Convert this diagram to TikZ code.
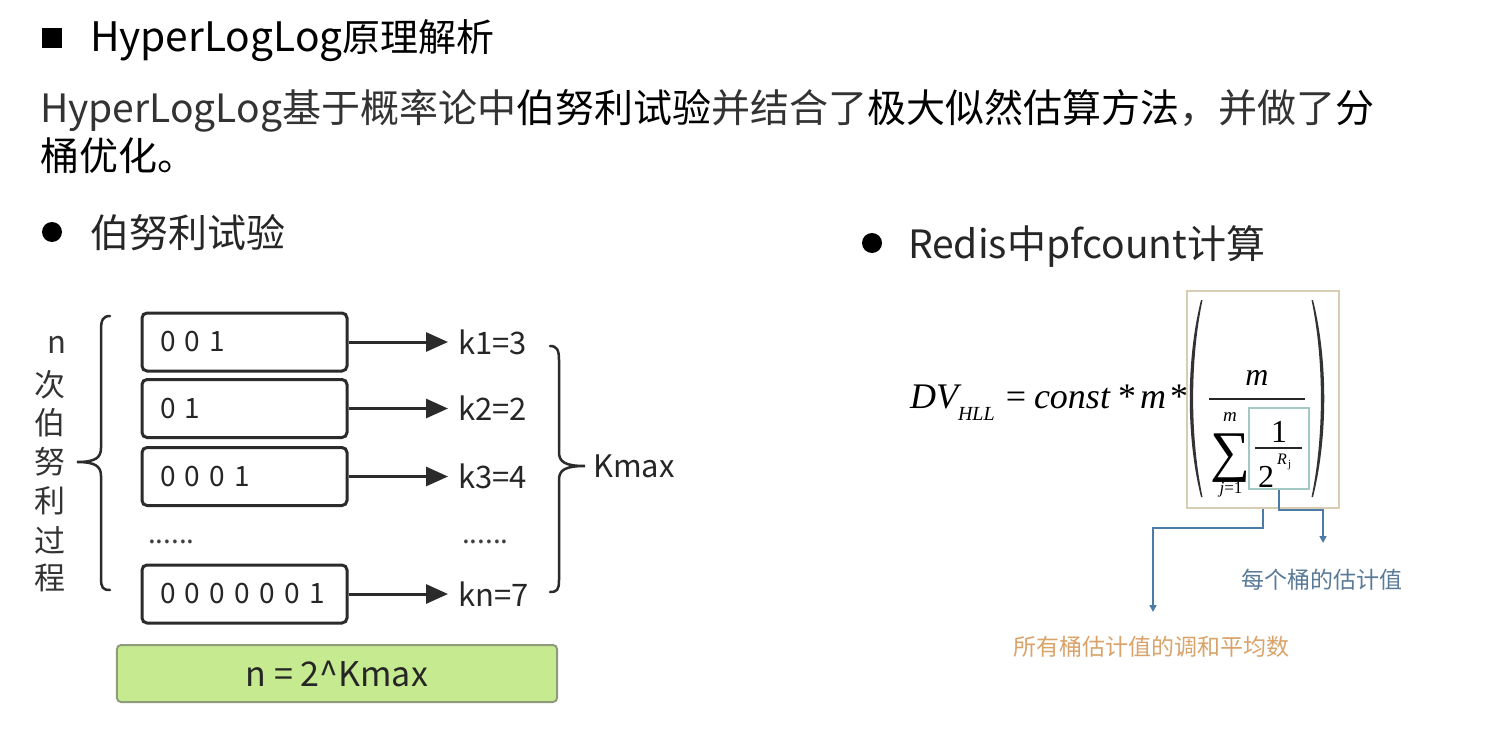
\documentclass[tikz,border=0pt]{standalone}
\usepackage{fontspec}
\setmainfont{Noto Sans CJK SC}
\newfontfamily\titlelat[Scale=1.07]{Noto Sans CJK SC}
\newfontfamily\tms{Liberation Serif}
\usetikzlibrary{arrows.meta,calc}
\newcommand\fsz[1]{\fontsize{#1bp}{#1bp}\selectfont}
\definecolor{lightink}{HTML}{333333}
\definecolor{boxline}{HTML}{2B2B2B}
\definecolor{greenfill}{HTML}{C6EA90}
\definecolor{greenline}{HTML}{8E9C7C}
\definecolor{tanline}{HTML}{D8CDB2}
\definecolor{tealline}{HTML}{A3C9C4}
\definecolor{connblue}{HTML}{4C7CA6}
\definecolor{labblue}{HTML}{5A7B98}
\definecolor{laborange}{HTML}{D9A36A}
\tikzset{
  txt/.style={inner sep=0pt, outer sep=0pt},
  bitbox/.style={draw=boxline, line width=3bp, rounded corners=5bp, minimum height=58bp,
     text width=169bp, inner xsep=18bp, align=left, font=\fsz{28}, text=black!85},
  klab/.style={inner xsep=10bp, inner ysep=0pt, outer sep=0pt, anchor=west, font=\fsz{31}, text=black!85},
  arr/.style={line width=3bp, draw=boxline, -{Triangle[length=22bp,width=19bp]}},
  brace/.style={line width=2.5bp, draw=boxline, line cap=round},
  vch/.style={txt, font=\fsz{31}, text=black!80},
  conn/.style={draw=connblue, line width=1.6bp, -{Triangle[length=7bp,width=7bp]}},
  ser/.style={txt, font=\tms\fsz{36}},
}
\begin{document}
\begin{tikzpicture}[x=1bp,y=-1bp]
\useasboundingbox[fill=white] (0,0) rectangle (1491,733);

% title
\node[txt, fill=black, minimum size=20bp] (sq) at (52,38) {};
\node[txt, anchor=base west, font=\fsz{38}] (title) at (90,52) {{\titlelat HyperLogLog}原理解析};

% body
\node[txt, anchor=base west, font=\fsz{39}] (body1) at (40,123)
  {\textcolor{lightink}{HyperLogLog基于概率论中}伯努利试验\textcolor{lightink}{并结合了}极大似然估算方法\textcolor{lightink}{，并做了}分};
\node[txt, anchor=base west, font=\fsz{39}] (body2) at (40,170) {桶优化。};

% bullets
\node[txt, circle, fill=black, minimum size=20bp] (bul1) at (52,232) {};
\node[txt, anchor=base west, font=\fsz{39}, text=black!85] (sec1) at (90,247) {伯努利试验};
\node[txt, circle, fill=black, minimum size=20bp] (bul2) at (872,243) {};
\node[txt, anchor=base west, font=\fsz{39}, text=black!85] (sec2) at (908,258) {Redis中pfcount计算};

% left vertical label
\node[vch] (vn) at (57,345) {n};
\node[vch] (v1) at (50,385) {次};
\node[vch] (v2) at (50,423) {伯};
\node[vch] (v3) at (50,462) {努};
\node[vch] (v4) at (50,501) {利};
\node[vch] (v5) at (50,540) {过};
\node[vch] (v6) at (50,578) {程};

% left brace
\draw[brace] (110,316) .. controls (103,316) and (101,320) .. (101,330) -- (101,448)
  .. controls (101,458) and (95,462) .. (77,462)
  .. controls (95,462) and (101,466) .. (101,476) -- (101,578)
  .. controls (101,588) and (103,590) .. (110,590);

% bit boxes
\node[bitbox] (b1) at (244.5,342) {0 0 1};
\node[bitbox] (b2) at (244.5,408.5) {0 1};
\node[bitbox] (b3) at (244.5,476.5) {0 0 0 1};
\node[bitbox] (b4) at (244.5,594) {0 0 0 0 0 0 1};
\node[txt, anchor=base west, font=\fsz{28}, text=black!75] (d1) at (148,543) {......};

% k labels
\node[klab] (k1) at (448,342) {k1=3};
\node[klab] (k2) at (448,408.5) {k2=2};
\node[klab] (k3) at (448,476.5) {k3=4};
\node[klab] (kn) at (448,594) {kn=7};
\node[txt, anchor=base west, font=\fsz{28}, text=black!75] (d2) at (462,543) {......};
\draw[arr] (b1.east) -- (k1.west);
\draw[arr] (b2.east) -- (k2.west);
\draw[arr] (b3.east) -- (k3.west);
\draw[arr] (b4.east) -- (kn.west);

% right brace
\draw[brace] (550,346) .. controls (557,346) and (559,350) .. (559,360) -- (559,452)
  .. controls (559,462) and (565,466) .. (585,466)
  .. controls (565,466) and (559,470) .. (559,480) -- (559,580)
  .. controls (559,590) and (557,592) .. (550,592);
\node[txt, anchor=west, font=\fsz{31}, text=black!85] (kmax) at (593,466) {Kmax};

% green box
\node[draw=greenline, fill=greenfill, line width=2bp, rounded corners=4bp,
  minimum width=440bp, minimum height=57bp, font=\fsz{34}, text=black!85] (nk) at (337,673.5) {n = 2\textasciicircum Kmax};

% formula
\node[ser, anchor=base west] (dv) at (910,408) {\itshape DV};
\node[txt, anchor=base west, font=\tms\itshape\fsz{20}] (hll) at (958,420) {HLL};
\node[ser, anchor=base] (eq) at (1016,408) {=};
\node[ser, anchor=base west] (cst) at (1034,408) {\itshape const};
\node[ser, anchor=base] (st1) at (1127,408) {*};
\node[ser, anchor=base] (mm) at (1153,408) {\itshape m};
\node[ser, anchor=base] (st2) at (1179,408) {*};

\node[draw=tanline, line width=1.5bp, minimum width=152bp, minimum height=217bp, inner sep=0pt] (outer) at (1263,399.5) {};
\node[draw=tealline, line width=1.5bp, minimum width=60bp, minimum height=81bp, inner sep=0pt] (inner) at (1279,448.5) {};

% parentheses
\fill[black!80] (1201,300) .. controls (1186,360) and (1186,437) .. (1201,497)
  -- (1202.5,497) .. controls (1190,437) and (1190,360) .. (1202.5,300) -- cycle;
\fill[black!80] (1313,300) .. controls (1328,360) and (1328,437) .. (1313,497)
  -- (1311.5,497) .. controls (1324,437) and (1324,360) .. (1311.5,300) -- cycle;

\node[txt, anchor=base, font=\tms\itshape\fsz{32}] (num) at (1257,385) {m};
\draw[line width=1.3bp, black!85] (1209,399) -- (1305,399);
\node[txt, anchor=base, font=\tms\fsz{56}] (sum) at (1230,470) {∑};
\node[txt, anchor=base, font=\tms\itshape\fsz{19}] (sup) at (1230,421) {m};
\node[txt, anchor=base, font=\tms\fsz{17}] (sub) at (1231,493) {\itshape j\upshape =1};
\node[txt, anchor=base, font=\tms\fsz{32}] (one) at (1279,442) {1};
\draw[line width=1.2bp, black!85] (1255,448) -- (1302,448);
\node[txt, anchor=base west, font=\tms\fsz{32}] (two) at (1258,487) {2};
\node[txt, anchor=base west, font=\tms\itshape\fsz{16}] (rr) at (1277,464) {R};
\node[txt, anchor=base west, font=\tms\fsz{11}] (jj) at (1288,467) {j};

% connectors
\coordinate (t1) at (1153,612);
\coordinate (t2) at (1323,543);
\coordinate (c1) at (1263,528);
\coordinate (c2) at (1279,510);
\draw[conn] (outer.south) -- (c1) -| (t1);
\draw[conn] (inner.south) -- (c2) -| (t2);
\node[txt, font=\fsz{23}, text=labblue] (lab1) at (1322,580) {每个桶的估计值};
\node[txt, font=\fsz{23}, text=laborange] (lab2) at (1151,647) {所有桶估计值的调和平均数};
\end{tikzpicture}
\end{document}
